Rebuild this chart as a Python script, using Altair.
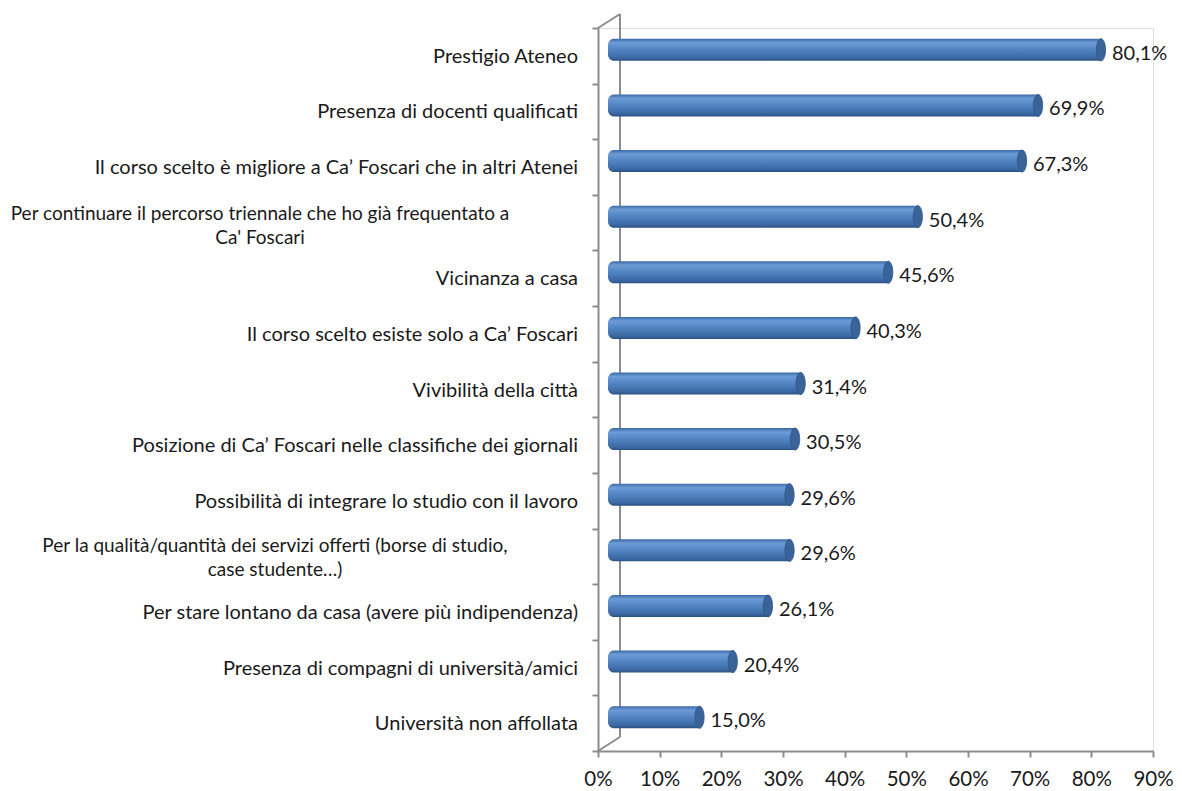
import altair as alt
import pandas as pd

categories = [
    "Prestigio Ateneo",
    "Presenza di docenti qualificati",
    "Il corso scelto è migliore a Ca’ Foscari che in altri Atenei",
    "Per continuare il percorso triennale che ho già frequentato a\nCa' Foscari",
    "Vicinanza a casa",
    "Il corso scelto esiste solo a Ca’ Foscari",
    "Vivibilità della città",
    "Posizione di Ca’ Foscari nelle classifiche dei giornali",
    "Possibilità di integrare lo studio con il lavoro",
    "Per la qualità/quantità dei servizi offerti (borse di studio,\ncase studente…)",
    "Per stare lontano da casa (avere più indipendenza)",
    "Presenza di compagni di università/amici",
    "Università non affollata",
]
values = [80.1, 69.9, 67.3, 50.4, 45.6, 40.3, 31.4, 30.5, 29.6, 29.6, 26.1, 20.4, 15.0]
value_labels = ["80,1%", "69,9%", "67,3%", "50,4%", "45,6%", "40,3%", "31,4%",
                "30,5%", "29,6%", "29,6%", "26,1%", "20,4%", "15,0%"]
x_ticks = [0, 10, 20, 30, 40, 50, 60, 70, 80, 90]

df = pd.DataFrame({"cat": categories, "val": values, "lab": value_labels,
                   "zero": [0] * len(values), "idx": list(range(len(values)))})

FONT = "Lato"
TXT = "#1a1a1a"
GRAY = "#8c8c8c"
W, H = 555, 723
DEPTH_X, DEPTH_Y = 22, 14
BAR_DX, BAR_DY = 10, -6

yscale = alt.Scale(domain=categories, paddingInner=0, paddingOuter=0)
xscale = alt.Scale(domain=[0, 90], nice=False)

base = alt.Chart(df)

grad = alt.Gradient(
    gradient="linear", x1=0, x2=0, y1=0, y2=1,
    stops=[
        alt.GradientStop(offset=0, color="#3b6aa6"),
        alt.GradientStop(offset=0.18, color="#6d9bd6"),
        alt.GradientStop(offset=0.45, color="#5587c6"),
        alt.GradientStop(offset=0.85, color="#3d6aa6"),
        alt.GradientStop(offset=1, color="#2b5283"),
    ],
)

one = pd.DataFrame({"a": [0]})
wall_v = alt.Chart(one).mark_rule(color=GRAY, strokeWidth=2).encode(
    x=alt.value(DEPTH_X), y=alt.value(-DEPTH_Y), y2=alt.value(H - DEPTH_Y)
)
wall_top = alt.Chart(one).mark_rule(color=GRAY, strokeWidth=2).encode(
    x=alt.value(0), y=alt.value(0), x2=alt.value(DEPTH_X), y2=alt.value(-DEPTH_Y)
)
wall_bot = alt.Chart(one).mark_rule(color=GRAY, strokeWidth=2).encode(
    x=alt.value(0), y=alt.value(H), x2=alt.value(DEPTH_X), y2=alt.value(H - DEPTH_Y)
)

bars = base.mark_bar(
    size=22, color=grad, xOffset=BAR_DX, x2Offset=BAR_DX, yOffset=BAR_DY,
    cornerRadiusTopLeft=6, cornerRadiusBottomLeft=6,
).encode(
    y=alt.Y("cat:N", scale=yscale, sort=categories, title=None,
            axis=alt.Axis(
                tickBand="extent", domainColor=GRAY, domainWidth=2, tickColor=GRAY,
                tickWidth=2, tickSize=6, labels=False,
            )),
    x=alt.X("zero:Q", scale=xscale, title=None,
            axis=alt.Axis(values=x_ticks, labelExpr="datum.value + '%'", domainColor=GRAY,
                          domainWidth=2, tickColor=GRAY, tickWidth=2, tickSize=6,
                          labelPadding=12, labelFont=FONT, labelFontSize=20.5,
                          labelFlush=False, labelColor=TXT, grid=False)),
    x2="val:Q",
)

caps = base.mark_point(
    shape="M0,-1 A0.42,1 0 1,1 0,1 A0.42,1 0 1,1 0,-1 Z",
    filled=True, size=484, opacity=1, color="#3a6399", xOffset=BAR_DX - 1, yOffset=BAR_DY,
    stroke="#2f5585", strokeWidth=0.8,
).encode(
    y=alt.Y("cat:N", scale=yscale, sort=categories),
    x=alt.X("val:Q", scale=xscale),
)

texts = base.mark_text(
    align="left", baseline="middle", dx=20, dy=-2, font=FONT, fontSize=20, color=TXT
).encode(
    y=alt.Y("cat:N", scale=yscale, sort=categories),
    x=alt.X("val:Q", scale=xscale),
    text="lab:N",
)

# category labels (single-line: right aligned; wrapped ones: centred like the original)
cat_single = base.transform_filter("indexof(datum.cat, '\\n') < 0").mark_text(
    align="right", baseline="middle", font=FONT, fontSize=20, color=TXT, dy=1
).encode(
    y=alt.Y("cat:N", scale=yscale, sort=categories),
    x=alt.value(-20),
    text="cat:N",
)
cat_wrap_a = base.transform_filter("datum.idx == 3").mark_text(
    align="center", baseline="middle", font=FONT, fontSize=19, color=TXT,
    lineBreak="\n", lineHeight=24, dy=-9,
).encode(
    y=alt.Y("cat:N", scale=yscale, sort=categories),
    x=alt.value(-338),
    text="cat:N",
)
cat_wrap_b = base.transform_filter("datum.idx == 9").mark_text(
    align="center", baseline="middle", font=FONT, fontSize=19, color=TXT,
    lineBreak="\n", lineHeight=24, dy=-10,
).encode(
    y=alt.Y("cat:N", scale=yscale, sort=categories),
    x=alt.value(-323),
    text="cat:N",
)

chart = alt.layer(wall_v, wall_top, wall_bot, bars, caps, texts,
                  cat_single, cat_wrap_a, cat_wrap_b).properties(
    width=W, height=H,
    autosize=alt.AutoSizeParams(type="none"),
    padding={"left": 590, "top": 20, "right": 21, "bottom": 40},
).configure_view(stroke=None).configure(background="white")

chart.save("out.html", embed_options={"renderer": "svg", "actions": False})
